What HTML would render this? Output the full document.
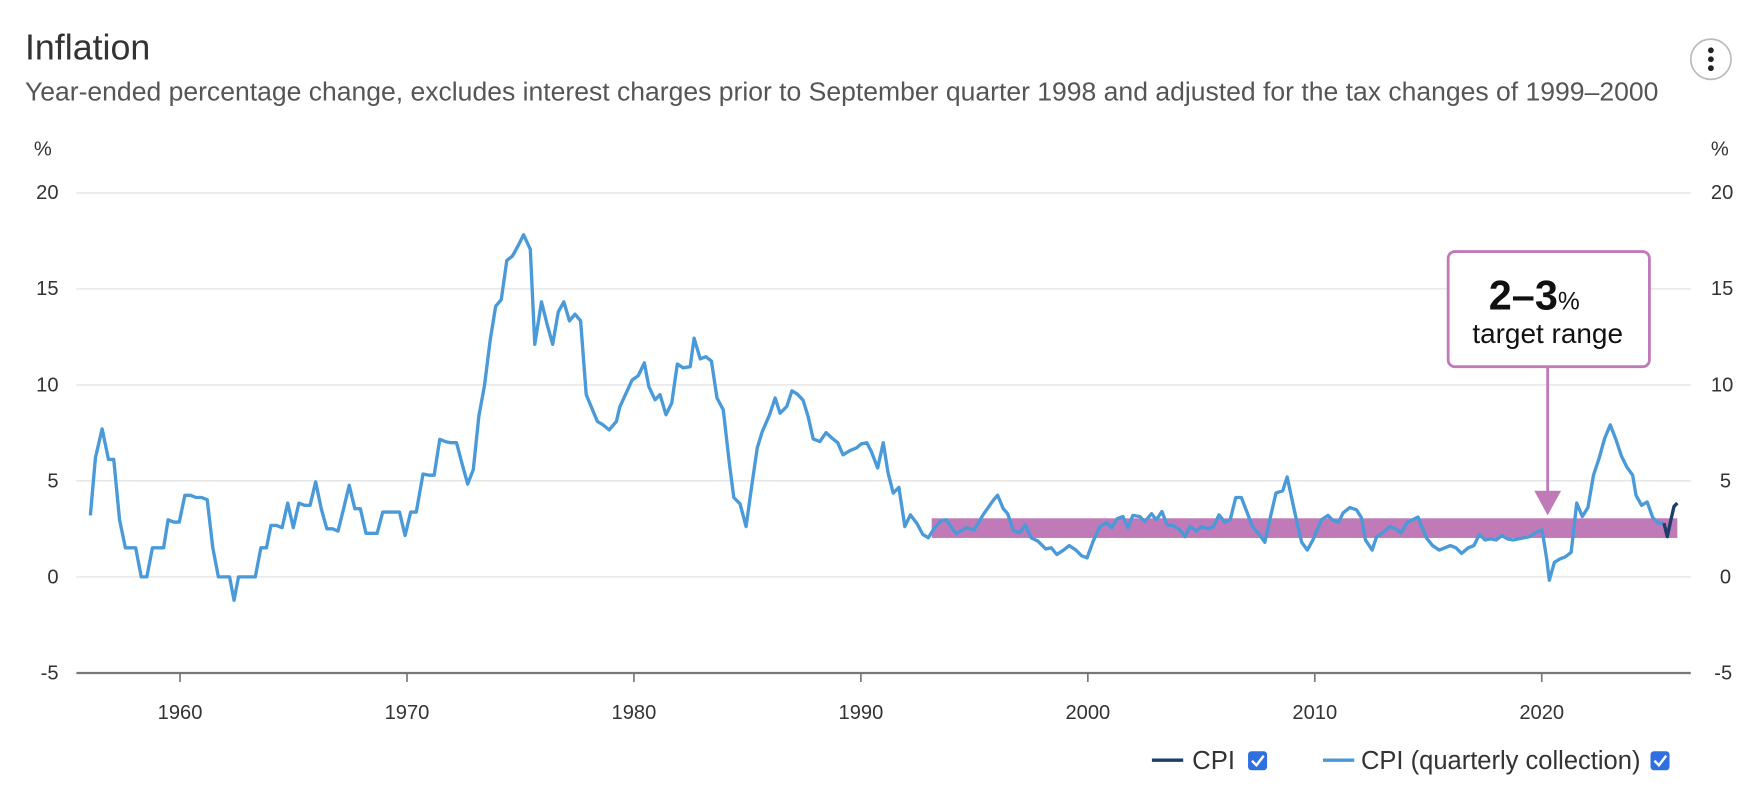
<!DOCTYPE html>
<html><head><meta charset="utf-8"><style>
html,body{margin:0;padding:0;background:#fff;width:1756px;height:796px;overflow:hidden}
svg text{font-family:"Liberation Sans",Arial,sans-serif}
</style></head><body>
<svg width="1756" height="796" viewBox="0 0 1570 712" xmlns="http://www.w3.org/2000/svg">
<text x="22" y="53" font-size="32" fill="#333">Inflation</text>
<text x="22" y="90" textLength="1461" lengthAdjust="spacingAndGlyphs" font-size="23" fill="#555">Year-ended percentage change, excludes interest charges prior to September quarter 1998 and adjusted for the tax changes of 1999–2000</text>
<circle cx="1530" cy="53" r="18" fill="#fff" stroke="#bbb" stroke-width="1.5"/>
<circle cx="1530" cy="45" r="2.6" fill="#222"/><circle cx="1530" cy="53" r="2.6" fill="#222"/><circle cx="1530" cy="61" r="2.6" fill="#222"/>
<g font-size="18" fill="#333">
<text x="30" y="139">%</text><text x="1530" y="139">%</text>
<g text-anchor="end"><text x="52" y="178">20</text><text x="52" y="264">15</text><text x="52" y="350">10</text><text x="52" y="436">5</text><text x="52" y="522">0</text><text x="52" y="608">-5</text></g>
<g text-anchor="start"><text x="1530" y="178">20</text><text x="1530" y="264">15</text><text x="1530" y="350">10</text><text x="1538" y="436">5</text><text x="1538" y="522">0</text><text x="1533" y="608">-5</text></g>
<g text-anchor="middle"><text x="160.7" y="643">1960</text><text x="363.7" y="643">1970</text><text x="566.7" y="643">1980</text><text x="769.7" y="643">1990</text><text x="972.7" y="643">2000</text><text x="1175.7" y="643">2010</text><text x="1378.7" y="643">2020</text></g>
</g>
<g stroke="#e3e3e3" stroke-width="1.2">
<line x1="68" y1="172.6" x2="1512" y2="172.6"/><line x1="68" y1="258.4" x2="1512" y2="258.4"/><line x1="68" y1="344.3" x2="1512" y2="344.3"/><line x1="68" y1="430.1" x2="1512" y2="430.1"/><line x1="68" y1="516" x2="1512" y2="516"/>
</g>
<line x1="68" y1="602" x2="1512" y2="602" stroke="#777" stroke-width="2"/>
<g stroke="#777" stroke-width="1.5">
<line x1="160.7" y1="602" x2="160.7" y2="610"/><line x1="363.7" y1="602" x2="363.7" y2="610"/><line x1="566.7" y1="602" x2="566.7" y2="610"/><line x1="769.7" y1="602" x2="769.7" y2="610"/><line x1="972.7" y1="602" x2="972.7" y2="610"/><line x1="1175.7" y1="602" x2="1175.7" y2="610"/><line x1="1378.7" y1="602" x2="1378.7" y2="610"/>
</g>
<rect x="833" y="463.6" width="667" height="17.6" fill="#c07ab8"/>
<polyline fill="none" stroke="#4a9ad9" stroke-width="3" stroke-linejoin="round" points="
80.5,461 85,409.5 91,383.6 96.7,411 101.4,411 106.6,465 111.8,490 116,490 121,490 126,516 131,516 136,490 141,490 146,490 150,465 155,467 160,467 165,443 170,443 175,445 180,445 185,447 190,490 195,516 200,516 205,516 209,537 213,516 218,516 223,516 228,516 233,490 238,490 242,470 247,470 252,472 257,450 262,472 267,450 272,452 277,452 282,431 287,455 292,473 297,473 302,475 307,455 312,434 317,455 322,455 327,477 332,477 337,477 342,458 347,458 352,458 357,458 362,479 367,458 372,458 378,424 383,425 388,425 393,393 398,395 403,396 408,396 413,415 418,433 423,420 428,372 433,345 438,305 443,274 448,268 453,233 458,229 463,220 468,210 474,223 478,308 484,270 489,290 494,308 499,279 504,270 509,287 514,281 519,287 524,353 529,365 534,377 539,380 544.5,384.5 551,377 554,364 560,351 565,340 570.6,336 576,324.6 580,345.7 585.6,357.6 590,353 595.4,371 600.5,360.5 605.5,325.6 610.7,329 617,328 620.5,302.5 626,321 631,319 636,323 641,356 646.6,366.6 652,414 656,445 661.6,450.6 667,471 672,435 677,400.6 681.5,386 688,371 693,356 697.4,369.6 703.4,363.6 708,349.6 713,352.6 718,358 722.6,373 727,392.6 733,395 738.5,387 743.6,391.7 749,396 753.7,406.8 760,403 766,400.5 770,397 775,396 779,403.8 784.7,418.6 789.7,396 794,423 798.6,441 803.7,436 809,471 814,460.5 820,468.5 825,478 830,481 835,473 841,466 846,465 855,477.4 864,472 871,474 879,460.5 888,447.6 892,443 897,455 901,459.5 906,474.5 912,476.6 916.5,469.4 922,481 928,484 935,491 940,490 945,496 951,492 956,488 962,492 967,497 972,499 977.5,484 983.5,471 989.4,467.6 994,472 999,464 1004,462 1008.6,472 1013,461 1019,462 1023.7,466.4 1029.7,459.5 1034,465 1039,457.5 1043.5,469.4 1048.8,470 1055,474 1059.5,480 1064,471 1070,475 1074.4,471 1080,473 1085,471 1090,460.5 1095,467 1100,465 1105,445 1110,445 1115,458 1120,471 1125,476.6 1131,485 1135.4,465 1141,441 1147,439 1151,426.6 1156,450 1160.6,471 1164,485 1169,492 1174,483 1181.6,465 1187.5,461 1192,465.5 1197,467 1201,458.8 1207,454 1213,456 1217.4,463 1221,483 1227,492 1231,480 1236.6,476.6 1242.7,471 1248,473 1253,476.7 1258,467.7 1263,465 1268,462.5 1275.5,481 1281,488 1287,492 1292,490 1297,488 1302,490 1307,495 1313,490 1318,488 1323,478 1328,483 1333,482 1338,483 1343,479 1348,482 1353,483 1358,482 1363,481 1368,480 1374,476 1379,474 1383,499 1385.5,519 1390,503 1395,500 1400,498 1405,494 1410,450 1415,462 1420,454 1425,425 1430,410 1435,392 1440,380 1445,393 1450,408 1455,418 1460,425 1463,443 1468,452 1473,449 1478,463 1483,468 1488,468"/>
<polyline fill="none" stroke="#1f3d6b" stroke-width="3" stroke-linejoin="round" points="1488,468 1491,480 1494,466 1497,453 1500,450"/>
<rect x="1295" y="225" width="180" height="103" rx="6" fill="#fff" stroke="#c07ab8" stroke-width="2.5"/>
<text x="1372" y="277" text-anchor="middle" font-size="37" font-weight="bold" fill="#111">2–3<tspan font-size="22" font-weight="normal">%</tspan></text>
<text x="1384" y="307" text-anchor="middle" font-size="25" fill="#111">target range</text>
<line x1="1384" y1="328" x2="1384" y2="442" stroke="#c07ab8" stroke-width="2.5"/>
<polygon points="1372,439 1396,439 1384,461" fill="#c07ab8"/>
<line x1="1030" y1="680" x2="1058" y2="680" stroke="#1f3d6b" stroke-width="3"/>
<text x="1066" y="688" font-size="23" fill="#333">CPI</text>
<rect x="1116" y="672" width="17" height="17" rx="3" fill="#2f6fe0"/>
<polyline points="1119.5,680.5 1123.5,684.5 1130,676" fill="none" stroke="#fff" stroke-width="2.2"/>
<line x1="1183" y1="680" x2="1211" y2="680" stroke="#4a9ad9" stroke-width="3"/>
<text x="1217" y="688" font-size="23" textLength="250" lengthAdjust="spacingAndGlyphs" fill="#333">CPI (quarterly collection)</text>
<rect x="1476" y="672" width="17" height="17" rx="3" fill="#2f6fe0"/>
<polyline points="1479.5,680.5 1483.5,684.5 1490,676" fill="none" stroke="#fff" stroke-width="2.2"/>
</svg>
</body></html>
